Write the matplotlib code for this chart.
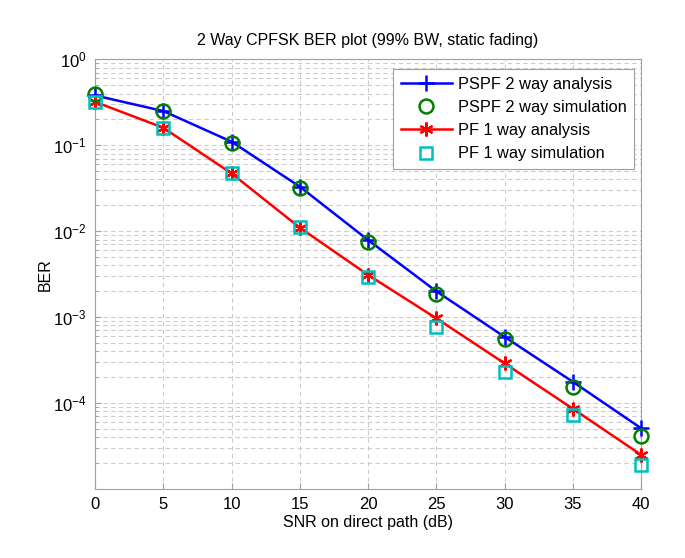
"""
2 way CPFSK BER curves, static fading
"""
import numpy as np
import matplotlib
matplotlib.use("Agg")
import matplotlib.pyplot as plt
from matplotlib.ticker import LogLocator, NullFormatter

plt.rcParams['font.family'] = ['Liberation Sans', 'DejaVu Sans']
plt.rcParams['mathtext.fontset'] = 'custom'
plt.rcParams['mathtext.rm'] = 'Liberation Sans'
plt.rcParams['mathtext.it'] = 'Liberation Sans:italic'
plt.rcParams['mathtext.bf'] = 'Liberation Sans:bold'
plt.rcParams['axes.unicode_minus'] = False

snr_db = [0, 5, 10, 15, 20, 25, 30, 35, 40]
pspf_analysis = [0.38, 0.25, 0.11, 0.033, 0.0079, 0.0020, 5.9e-4, 1.77e-4, 5.1e-5]
pspf_sim = [0.40, 0.25, 0.107, 0.0315, 0.0074, 0.00185, 5.5e-4, 1.52e-4, 4.1e-5]
pf_analysis = [0.32, 0.16, 0.047, 0.011, 0.0031, 9.7e-4, 2.9e-4, 8.6e-5, 2.5e-5]
pf_sim = [0.32, 0.16, 0.047, 0.0111, 0.0029, 7.7e-4, 2.3e-4, 7.2e-5, 1.9e-5]

x_ticks = [0, 5, 10, 15, 20, 25, 30, 35, 40]
y_ticks = [1e0, 1e-1, 1e-2, 1e-3, 1e-4]

fig = plt.figure(figsize=(6.85, 5.58), dpi=100)
ax = fig.add_axes([0.1387, 0.1237, 0.7971, 0.77])

ax.semilogy(snr_db, pspf_analysis, color='#0000ff', lw=1.8, marker='+',
            ms=11, mew=1.8, label='PSPF 2 way analysis', zorder=3, clip_on=False)
ax.semilogy(snr_db, pspf_sim, ls='none', marker='o', ms=10, mfc='none',
            mec='#008000', mew=1.8, label='PSPF 2 way simulation', zorder=4, clip_on=False)
ax.semilogy(snr_db, pf_analysis, color='#ff0000', lw=1.8, marker=(6, 2, 0),
            ms=10, mew=1.6, label='PF 1 way analysis', zorder=3, clip_on=False)
ax.semilogy(snr_db, pf_sim, ls='none', marker='s', ms=9, mfc='none',
            mec='#00bfbf', mew=1.8, label='PF 1 way simulation', zorder=4, clip_on=False)

ax.set_xlim(0, 40)
ax.set_ylim(1e-5, 1e0)
ax.set_xticks(x_ticks)
ax.set_yticks(y_ticks)
ax.yaxis.set_minor_locator(LogLocator(base=10, subs=np.arange(2, 10), numticks=20))
ax.yaxis.set_minor_formatter(NullFormatter())

ax.grid(which='major', color='#cccccc', ls=(0, (4, 3)), lw=0.8)
ax.grid(which='minor', axis='y', color='#cccccc', ls=(0, (4, 3)), lw=0.8)
ax.set_axisbelow(True)
for s in ax.spines.values():
    s.set_color('#a0a0a0')
ax.tick_params(which='both', direction='in', color='#a0a0a0', labelsize=12)
ax.tick_params(which='major', length=4, pad=6)
ax.tick_params(which='minor', length=2)

ax.set_title('2 Way CPFSK BER plot (99% BW, static fading)', fontsize=11.5, pad=10)
ax.set_xlabel('SNR on direct path (dB)', fontsize=11.5, labelpad=2)
ax.set_ylabel('BER', fontsize=11.5, labelpad=0)

leg = ax.legend(loc='upper right', bbox_to_anchor=(0.997, 0.988), fontsize=11.8,
                numpoints=1, handlelength=3.1, borderpad=0.45, labelspacing=0.5,
                handletextpad=0.4, borderaxespad=0.3, fancybox=False, framealpha=1)
leg.get_frame().set_edgecolor('#a0a0a0')
leg.get_frame().set_linewidth(0.8)

plt.savefig('out.png', dpi=100)
plt.close()
